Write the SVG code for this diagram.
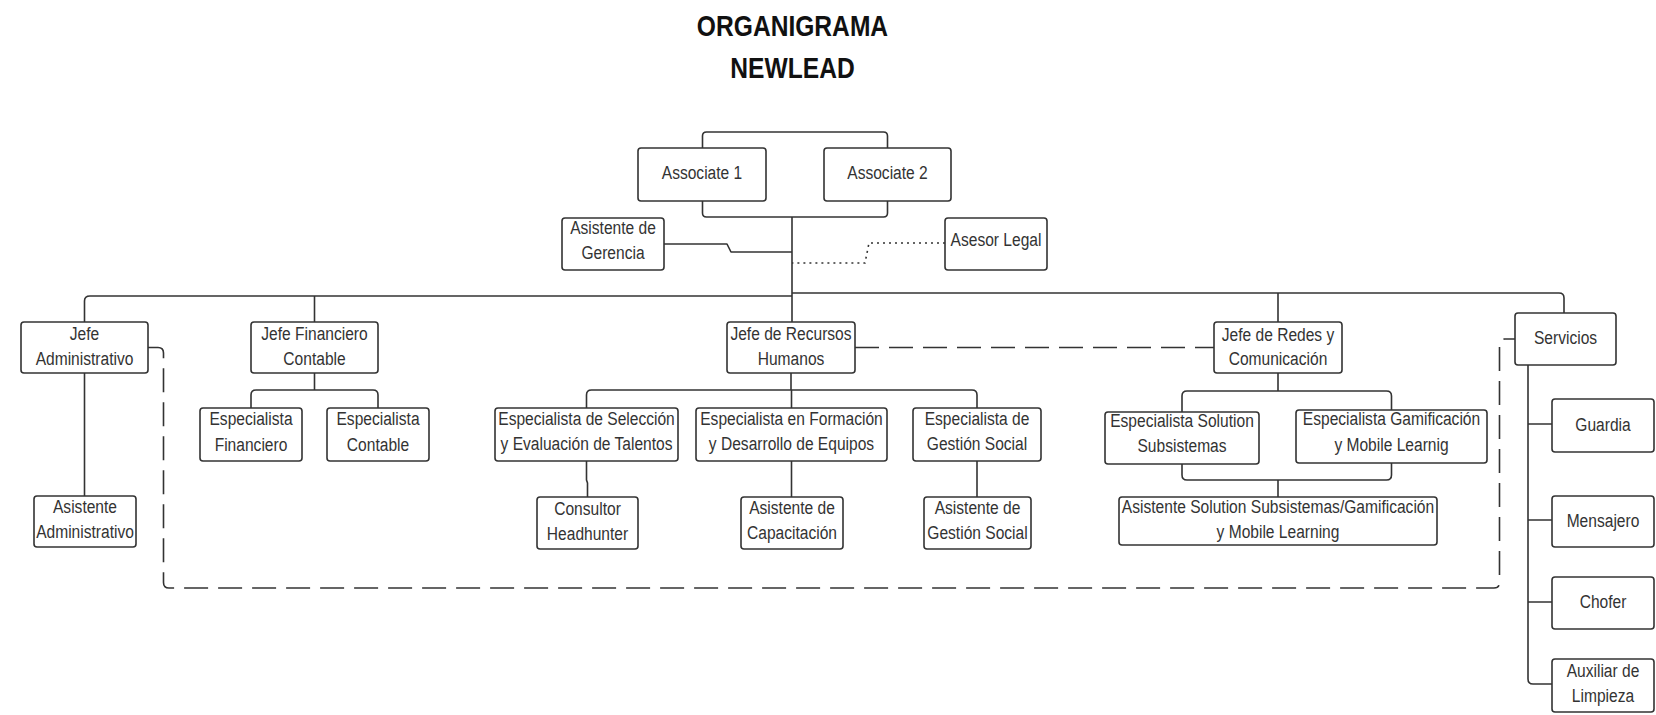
<svg xmlns="http://www.w3.org/2000/svg" width="1656" height="715" viewBox="0 0 1656 715">
<style>
.b{fill:#fff;stroke:#333;stroke-width:1.6}
.t{font-family:"Liberation Sans",Arial,sans-serif;font-size:19px;fill:#333;text-anchor:middle}
.h{font-family:"Liberation Sans",Arial,sans-serif;font-size:30px;font-weight:bold;fill:#111;text-anchor:middle}
.c{fill:none;stroke:#333;stroke-width:1.6;stroke-linejoin:round}
.d{stroke-dasharray:24 10}
.o{stroke-dasharray:2 4}
</style>
<rect width="1656" height="715" fill="#fff"/>
<g id="title">
<text class="h" transform="translate(792.5 0) scale(.82 1)"><tspan x="0" y="36">ORGANIGRAMA</tspan><tspan x="0" y="78">NEWLEAD</tspan></text>
</g>
<g id="connectors">
<path class="c" d="M702.5,148 V136 Q702.5,132 706.5,132 H883.5 Q887.5,132 887.5,136 V148"/>
<path class="c" d="M702.5,201 V213 Q702.5,217 706.5,217 H883.5 Q887.5,217 887.5,213 V201"/>
<path class="c" d="M792,217 V322"/>
<path class="c" d="M664,244 H727 L731,252 H792"/>
<path class="c o" d="M945,243 H869 L865,263 H792"/>
<path class="c" d="M792,296 H90 Q84.5,296 84.5,301 V322"/>
<path class="c" d="M314.5,296 V322"/>
<path class="c" d="M792,293 H1559 Q1564,293 1564,298 V313"/>
<path class="c" d="M1278,293 V322"/>
<path class="c" d="M84.5,373 V496"/>
<path class="c" d="M314.5,373 V390 M251,408 V395 Q251,390 256,390 H373 Q378,390 378,395 V408"/>
<path class="c" d="M791,373 V390 M586.5,408 V395 Q586.5,390 591.5,390 H972 Q977,390 977,395 V408 M791.5,390 V408"/>
<path class="c" d="M586.5,461 V480 L587.5,483 V497 M791.5,461 V497 M977,461 V497"/>
<path class="c" d="M1278,373 V391 M1182,412 V396 Q1182,391 1187,391 H1386.5 Q1391.5,391 1391.5,396 V410"/>
<path class="c" d="M1182,464 V475 Q1182,480 1187,480 H1386.5 Q1391.5,480 1391.5,475 V463 M1278,480 V497"/>
<path class="c" d="M1528,365 V679 Q1528,684 1533,684 H1552 M1528,424 H1552 M1528,520 H1552 M1528,602 H1552"/>
<path class="c d" d="M148,347.5 H158 Q163.5,347.5 163.5,353 V582.5 Q163.5,588 169,588 H1494 Q1499.5,588 1499.5,582.5 V344.5 Q1499.5,339 1505,339 H1515"/>
<path class="c d" d="M855,347.5 H1214"/>
</g>
<g id="associate1"><rect class="b" x="638" y="148" width="128" height="53" rx="3"/><text class="t" transform="translate(702 0) scale(.82 1)"><tspan x="0" y="179">Associate 1</tspan></text></g>
<g id="associate2"><rect class="b" x="824" y="148" width="127" height="53" rx="3"/><text class="t" transform="translate(887.5 0) scale(.82 1)"><tspan x="0" y="179">Associate 2</tspan></text></g>
<g id="asistente-gerencia"><rect class="b" x="562" y="218" width="102" height="52" rx="3"/><text class="t" transform="translate(613 0) scale(.82 1)"><tspan x="0" y="234">Asistente de</tspan><tspan x="0" y="259">Gerencia</tspan></text></g>
<g id="asesor-legal"><rect class="b" x="945" y="218" width="102" height="52" rx="3"/><text class="t" transform="translate(996 0) scale(.82 1)"><tspan x="0" y="246">Asesor Legal</tspan></text></g>
<g id="jefe-administrativo"><rect class="b" x="21" y="322" width="127" height="51" rx="3"/><text class="t" transform="translate(84.5 0) scale(.82 1)"><tspan x="0" y="340">Jefe</tspan><tspan x="0" y="365">Administrativo</tspan></text></g>
<g id="jefe-financiero"><rect class="b" x="251" y="322" width="127" height="51" rx="3"/><text class="t" transform="translate(314.5 0) scale(.82 1)"><tspan x="0" y="340">Jefe Financiero</tspan><tspan x="0" y="365">Contable</tspan></text></g>
<g id="jefe-rrhh"><rect class="b" x="727" y="322" width="128" height="51" rx="3"/><text class="t" transform="translate(791 0) scale(.82 1)"><tspan x="0" y="340">Jefe de Recursos</tspan><tspan x="0" y="365">Humanos</tspan></text></g>
<g id="jefe-redes"><rect class="b" x="1214" y="322" width="128" height="51" rx="3"/><text class="t" transform="translate(1278 0) scale(.82 1)"><tspan x="0" y="341">Jefe de Redes y</tspan><tspan x="0" y="365">Comunicación</tspan></text></g>
<g id="servicios"><rect class="b" x="1515" y="313" width="101" height="52" rx="3"/><text class="t" transform="translate(1565.5 0) scale(.82 1)"><tspan x="0" y="344">Servicios</tspan></text></g>
<g id="esp-financiero"><rect class="b" x="200" y="408" width="102" height="53" rx="3"/><text class="t" transform="translate(251 0) scale(.82 1)"><tspan x="0" y="425">Especialista</tspan><tspan x="0" y="451">Financiero</tspan></text></g>
<g id="esp-contable"><rect class="b" x="327" y="408" width="102" height="53" rx="3"/><text class="t" transform="translate(378 0) scale(.82 1)"><tspan x="0" y="425">Especialista</tspan><tspan x="0" y="451">Contable</tspan></text></g>
<g id="esp-seleccion"><rect class="b" x="495" y="408" width="183" height="53" rx="3"/><text class="t" transform="translate(586.5 0) scale(.82 1)"><tspan x="0" y="425">Especialista de Selección</tspan><tspan x="0" y="450">y Evaluación de Talentos</tspan></text></g>
<g id="esp-formacion"><rect class="b" x="696" y="408" width="191" height="53" rx="3"/><text class="t" transform="translate(791.5 0) scale(.82 1)"><tspan x="0" y="425">Especialista en Formación</tspan><tspan x="0" y="450">y Desarrollo de Equipos</tspan></text></g>
<g id="esp-gestion"><rect class="b" x="913" y="408" width="128" height="53" rx="3"/><text class="t" transform="translate(977 0) scale(.82 1)"><tspan x="0" y="425">Especialista de</tspan><tspan x="0" y="450">Gestión Social</tspan></text></g>
<g id="esp-solution"><rect class="b" x="1105" y="412" width="154" height="52" rx="3"/><text class="t" transform="translate(1182 0) scale(.82 1)"><tspan x="0" y="427">Especialista Solution</tspan><tspan x="0" y="452">Subsistemas</tspan></text></g>
<g id="esp-gamificacion"><rect class="b" x="1296" y="410" width="191" height="53" rx="3"/><text class="t" transform="translate(1391.5 0) scale(.82 1)"><tspan x="0" y="425">Especialista Gamificación</tspan><tspan x="0" y="451">y Mobile Learnig</tspan></text></g>
<g id="asistente-administrativo"><rect class="b" x="34" y="496" width="102" height="51" rx="3"/><text class="t" transform="translate(85 0) scale(.82 1)"><tspan x="0" y="513">Asistente</tspan><tspan x="0" y="538">Administrativo</tspan></text></g>
<g id="consultor"><rect class="b" x="537" y="497" width="101" height="52" rx="3"/><text class="t" transform="translate(587.5 0) scale(.82 1)"><tspan x="0" y="515">Consultor</tspan><tspan x="0" y="540">Headhunter</tspan></text></g>
<g id="asistente-capacitacion"><rect class="b" x="741" y="497" width="102" height="52" rx="3"/><text class="t" transform="translate(792 0) scale(.82 1)"><tspan x="0" y="514">Asistente de</tspan><tspan x="0" y="539">Capacitación</tspan></text></g>
<g id="asistente-gestion"><rect class="b" x="924" y="497" width="107" height="52" rx="3"/><text class="t" transform="translate(977.5 0) scale(.82 1)"><tspan x="0" y="514">Asistente de</tspan><tspan x="0" y="539">Gestión Social</tspan></text></g>
<g id="asistente-solution"><rect class="b" x="1119" y="497" width="318" height="48" rx="3"/><text class="t" transform="translate(1278 0) scale(.82 1)"><tspan x="0" y="513">Asistente Solution Subsistemas/Gamificación</tspan><tspan x="0" y="538">y Mobile Learning</tspan></text></g>
<g id="guardia"><rect class="b" x="1552" y="399" width="102" height="53" rx="3"/><text class="t" transform="translate(1603 0) scale(.82 1)"><tspan x="0" y="431">Guardia</tspan></text></g>
<g id="mensajero"><rect class="b" x="1552" y="496" width="102" height="51" rx="3"/><text class="t" transform="translate(1603 0) scale(.82 1)"><tspan x="0" y="527">Mensajero</tspan></text></g>
<g id="chofer"><rect class="b" x="1552" y="577" width="102" height="52" rx="3"/><text class="t" transform="translate(1603 0) scale(.82 1)"><tspan x="0" y="608">Chofer</tspan></text></g>
<g id="auxiliar"><rect class="b" x="1552" y="659" width="102" height="53" rx="3"/><text class="t" transform="translate(1603 0) scale(.82 1)"><tspan x="0" y="677">Auxiliar de</tspan><tspan x="0" y="702">Limpieza</tspan></text></g>
</svg>
